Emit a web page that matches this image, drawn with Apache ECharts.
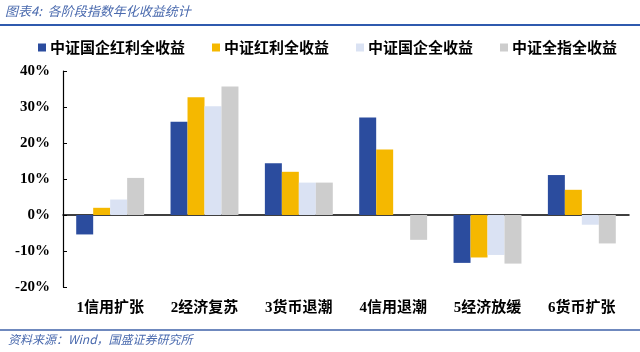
<!DOCTYPE html>
<html>
<head>
<meta charset="utf-8">
<script src="https://cdn.jsdelivr.net/npm/echarts@6/dist/echarts.min.js"></script>
<style>html,body{margin:0;padding:0;background:#fff;}#c{width:640px;height:352px;}</style>
</head>
<body>
<div id="c"></div>
<script>
const categories = ['1信用扩张', '2经济复苏', '3货币退潮', '4信用退潮', '5经济放缓', '6货币扩张'];
const seriesNames = ['中证国企红利全收益', '中证红利全收益', '中证国企全收益', '中证全指全收益'];
const soeDividend = [-5.4, 25.9, 14.4, 27.1, -13.3, 11.1];
const dividend = [2.0, 32.7, 12.0, 18.2, -11.8, 7.0];
const soe = [4.3, 30.2, 9.0, 0, -11.1, -2.7];
const allShare = [10.3, 35.7, 9.0, -6.9, -13.5, -7.9];
const yTicks = [-20, -10, 0, 10, 20, 30, 40];

const colors = ['#2B4C9E', '#F5B800', '#DAE2F3', '#CDCDCD'];
const values = [soeDividend, dividend, soe, allShare];

const chart = echarts.init(document.getElementById('c'));
chart.setOption({
  animation: false,
  backgroundColor: '#fff',
  color: colors,
  legend: {
    left: 33, top: 35,
    itemWidth: 8, itemHeight: 8, itemGap: 27,
    icon: 'rect',
    textStyle: { fontFamily: 'Noto Sans CJK SC', fontWeight: 'bold', fontSize: 15, color: '#000', padding: [0,0,0,-1] },
    data: seriesNames
  },
  grid: { left: 63, right: 11, top: 71, bottom: 65 },
  xAxis: [{
    type: 'category', data: categories, position: 'bottom',
    axisLine: { show: false, onZero: false }, axisTick: { show: false },
    axisLabel: { margin: 14, color: '#000', fontWeight: 'bold', fontSize: 15, fontFamily: 'Liberation Serif, Noto Sans CJK SC' }
  }, {
    type: 'category', data: categories, position: 'bottom',
    axisLine: { show: true, onZero: true, lineStyle: { color: '#000', width: 1.5 } },
    axisTick: { show: false }, axisLabel: { show: false }
  }],
  yAxis: {
    type: 'value', min: yTicks[0], max: yTicks[yTicks.length - 1], interval: 10,
    splitLine: { show: false },
    axisLine: { show: true, lineStyle: { color: '#000', width: 1.2 } },
    axisTick: { show: true, inside: true, length: 4, lineStyle: { color: '#000' } },
    axisLabel: { formatter: '{value}%', color: '#000', fontWeight: 'bold', fontSize: 15, fontFamily: 'Liberation Serif', margin: 13 }
  },
  series: seriesNames.map((n, i) => ({
    name: n, type: 'bar', data: values[i], xAxisIndex: 0,
    barGap: '0%', barCategoryGap: '28%',
    itemStyle: { color: colors[i] }
  })),
  graphic: [
    { type: 'text', left: 5, top: 5, style: { text: '图表4:  各阶段指数年化收益统计', fill: '#4A6AAE', font: 'italic 13px "Noto Sans CJK SC"' } },
    { type: 'line', shape: { x1: 0, y1: 25, x2: 640, y2: 25 }, style: { stroke: '#2F5AAE', lineWidth: 2 } },
    { type: 'line', shape: { x1: 0, y1: 330, x2: 640, y2: 330 }, style: { stroke: '#3F62A8', lineWidth: 1.5 } },
    { type: 'text', left: 8, top: 333, style: { text: '资料来源：Wind，国盛证券研究所', fill: '#4A6AAE', font: 'italic 12px "Noto Sans CJK SC"' } }
  ]
});
</script>
</body>
</html>
